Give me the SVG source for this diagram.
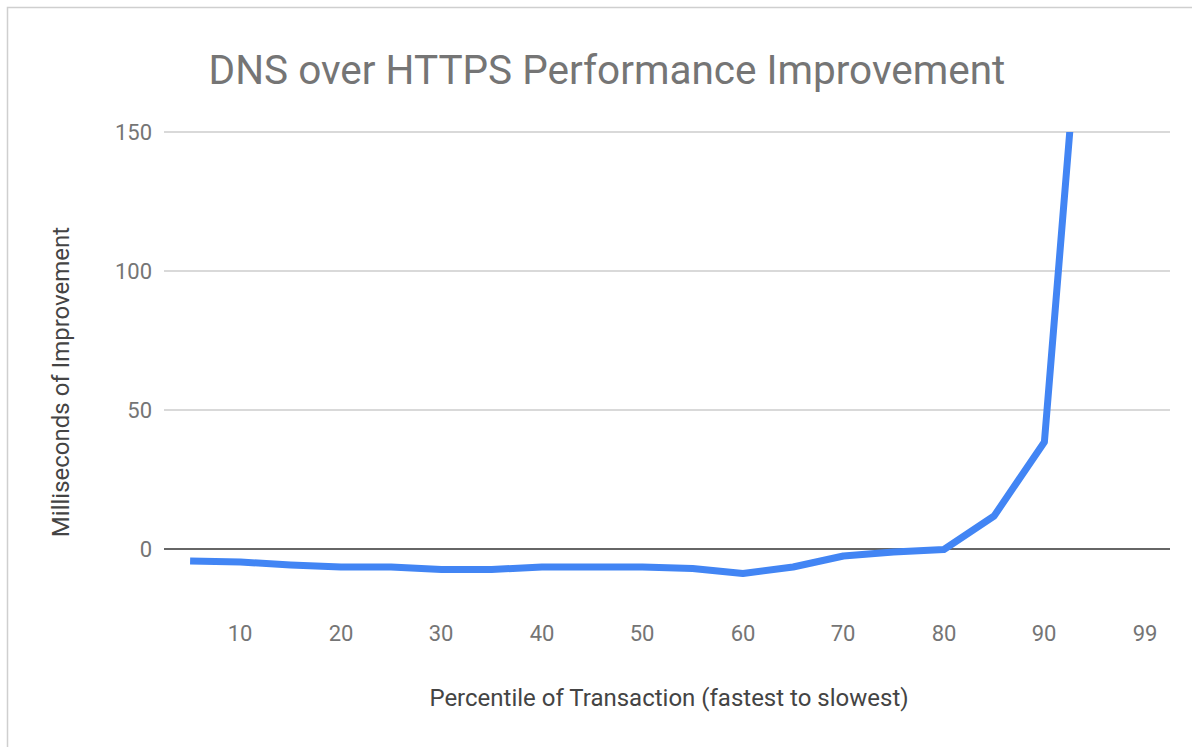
<svg xmlns="http://www.w3.org/2000/svg" width="1192" height="747" viewBox="0 0 1192 747">
<style>
.title{font-family:Roboto,"Liberation Sans",sans-serif;font-size:40.5px;fill:#757575}
.tick{font-family:Roboto,"Liberation Sans",sans-serif;font-size:22px;fill:#757575}
.axt{font-family:Roboto,"Liberation Sans",sans-serif;font-size:24px;fill:#444}
.grid{stroke:#cccccc;stroke-width:1.5;fill:none}
</style>
<defs>
<clipPath id="plot"><rect x="164" y="132" width="1006" height="500"/></clipPath>
</defs>
<rect width="1192" height="747" fill="#fff"/>
<path d="M7.5 747 V7.5 H1192" fill="none" stroke="#cfcfcf" stroke-width="1.5"/>
<g id="title"><text class="title" x="607" y="84" text-anchor="middle">DNS over HTTPS Performance Improvement</text></g>
<g id="gridlines">
<line class="grid" x1="164" y1="132" x2="1170" y2="132"/>
<line class="grid" x1="164" y1="271" x2="1170" y2="271"/>
<line class="grid" x1="164" y1="410" x2="1170" y2="410"/>
</g>
<g id="y-axis">
<text class="tick" x="152" y="140" text-anchor="end">150</text>
<text class="tick" x="152" y="279" text-anchor="end">100</text>
<text class="tick" x="152" y="418" text-anchor="end">50</text>
<text class="tick" x="152" y="557" text-anchor="end">0</text>
<text class="axt" transform="translate(69 382) rotate(-90)" text-anchor="middle">Milliseconds of Improvement</text>
</g>
<g id="x-axis">
<text class="tick" x="240" y="641" text-anchor="middle">10</text>
<text class="tick" x="341" y="641" text-anchor="middle">20</text>
<text class="tick" x="441" y="641" text-anchor="middle">30</text>
<text class="tick" x="542" y="641" text-anchor="middle">40</text>
<text class="tick" x="642" y="641" text-anchor="middle">50</text>
<text class="tick" x="743" y="641" text-anchor="middle">60</text>
<text class="tick" x="843" y="641" text-anchor="middle">70</text>
<text class="tick" x="944" y="641" text-anchor="middle">80</text>
<text class="tick" x="1044" y="641" text-anchor="middle">90</text>
<text class="tick" x="1145" y="641" text-anchor="middle">99</text>
<text class="axt" x="669" y="706" text-anchor="middle">Percentile of Transaction (fastest to slowest)</text>
</g>
<g id="connectors">
<line x1="164" y1="549" x2="1170" y2="549" stroke="#333" stroke-width="1.5"/>
<polyline clip-path="url(#plot)" fill="none" stroke="#4285f4" stroke-width="7" stroke-linejoin="round" stroke-linecap="butt" points="190.1,561 240.4,562 290.6,565 340.9,567 391.1,567 441.4,569.5 491.6,569.5 541.9,567 592.1,567 642.4,567 692.6,568.5 742.9,573.5 793.1,567 843.4,556 893.6,552 943.9,549.5 994.1,516 1044.4,442 1094.6,-172"/>
</g>
</svg>
